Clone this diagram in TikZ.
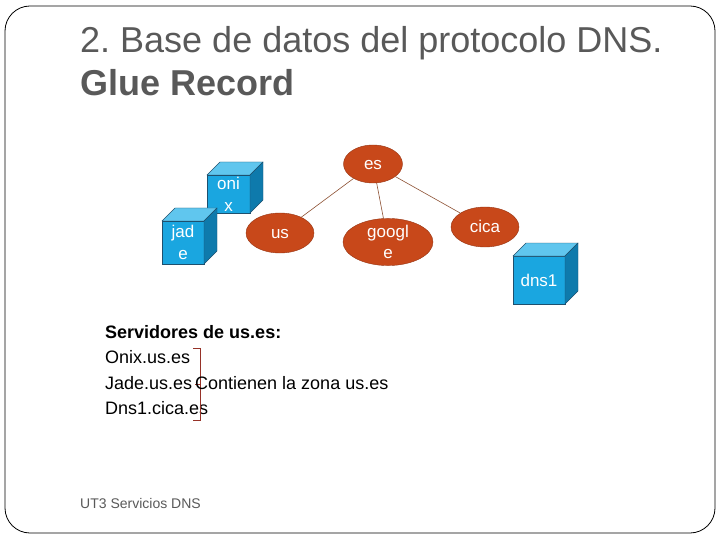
\documentclass[tikz,border=0pt]{standalone}
\usepackage{fontspec}
\setmainfont{Liberation Sans}
\usetikzlibrary{shapes.geometric}
\frenchspacing
\definecolor{titlegray}{RGB}{89,89,89}
\definecolor{zonefill}{RGB}{200,72,26}
\definecolor{zoneline}{RGB}{150,52,18}
\definecolor{linkline}{RGB}{140,80,50}
\definecolor{cubefront}{RGB}{26,166,224}
\definecolor{cubetop}{RGB}{96,198,238}
\definecolor{cubeside}{RGB}{14,122,172}
\definecolor{cubeline}{RGB}{30,80,110}
\definecolor{bracketred}{RGB}{150,50,40}
\tikzset{
	zone/.style = {ellipse, draw=zoneline, fill=zonefill, text=white, inner sep=0pt,
		font=\fontsize{17}{21}\selectfont},
	onezone/.style = {zone, text height=12pt, text depth=0pt},
	twozone/.style = {zone, align=center, text depth=0pt},
	server/.style = {draw=cubeline, fill=cubefront, text=white, inner sep=0pt, outer sep=0pt,
		align=center, font=\fontsize{17}{22}\selectfont},
	cubetopface/.style = {draw=cubeline, fill=cubetop},
	cubesideface/.style = {draw=cubeline, fill=cubeside},
	link/.style = {draw=linkline, line width=0.6pt},
	body/.style = {anchor=base west, inner sep=0pt, font=\fontsize{18}{22}\selectfont}
}
% top and right faces of a cube drawn behind a front node
\newcommand\cubefaces[2]{%
	\draw[cubetopface] (#1.north west) -- ++(#2,-#2) -- ([shift={(#2,-#2)}]#1.north east) -- (#1.north east) -- cycle;
	\draw[cubesideface] (#1.north east) -- ++(#2,-#2) -- ([shift={(#2,-#2)}]#1.south east) -- (#1.south east) -- cycle;
}
\begin{document}
\begin{tikzpicture}[x=1pt, y=-1pt]
	\useasboundingbox (0,0) rectangle (720,540);
	\draw[rounded corners=25pt, line width=0.8pt] (5,6) rectangle (715,533);
	% title
	\node (t1) [anchor=base west, inner sep=0pt, text=titlegray, font=\fontsize{36}{43}\selectfont]
		at (80,53) {2. Base de datos del protocolo DNS.};
	\node (t2) [anchor=base west, inner sep=0pt, text=titlegray, font=\fontsize{36}{43}\selectfont\bfseries]
		at (80,96) {Glue Record};
	% zones
	\node (es) [onezone, minimum width=59pt, minimum height=38pt] at (373,164) {es};
	\node (us) [onezone, minimum width=68pt, minimum height=40pt] at (280,233) {us};
	\node (google) [twozone, minimum width=90pt, minimum height=44pt] at (388,242) {googl\\e};
	\node (cica) [onezone, minimum width=68pt, minimum height=40pt] at (485,227) {cica};
	\draw[link] (es) -- (us);
	\draw[link] (es) -- (google);
	\draw[link] (es) -- (cica);
	% servers
	\node (onix) [server, minimum width=43pt, minimum height=38pt] at (228.5,194) {oni\\x};
	\cubefaces{onix}{13}
	\node (jade) [server, minimum width=42pt, minimum height=43pt] at (183,242.5) {jad\\e};
	\cubefaces{jade}{13}
	\node (dns) [server, minimum width=52pt, minimum height=48pt] at (539,280) {dns1};
	\cubefaces{dns}{13}
	% text block
	\node (srv) [body, font=\fontsize{18}{22}\selectfont\bfseries] at (105,338) {Servidores de us.es:};
	\node (l1) [body] at (105,363.5) {Onix.us.es};
	\node (l2) [body] at (105,389) {Jade.us.es};
	\node (l3) [body] at (105,414.5) {Dns1.cica.es};
	\coordinate (btop) at (193,348);
	\coordinate (bbot) at (193,420);
	\coordinate (bmid) at (200,384);
	\draw[bracketred, line width=0.8pt] (btop) -- (btop -| bmid) -- (bbot -| bmid) -- (bbot);
	\draw[bracketred, line width=0.8pt] (bmid) -- ++(-5,0);
	\node (note) [body] at (195,389) {Contienen la zona us.es};
	% footer
	\node (foot) [anchor=base west, inner sep=0pt, text=titlegray, font=\fontsize{14}{17}\selectfont]
		at (80,508) {UT3 Servicios DNS};
\end{tikzpicture}
\end{document}
